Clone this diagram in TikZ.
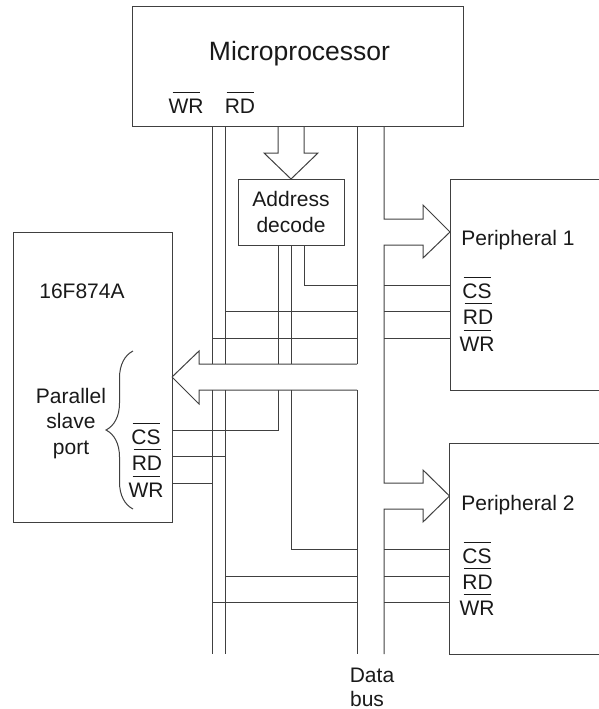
\documentclass[tikz,border=0pt]{standalone}
\usepackage{fontspec}
\setmainfont{Liberation Sans}
\usetikzlibrary{decorations.pathreplacing}

% active-low signal name, bar of fixed length over the text
\newcommand{\sigbar}[1]{\vbox{\offinterlineskip\ialign{\hfil##\hfil\cr
    \vrule height 1pt width 27pt\cr\noalign{\kern 5.5pt}#1\cr}}}

\begin{document}
\begin{tikzpicture}[
    x=1pt, y=-1pt,
    wire/.style={draw=black!75, line width=1pt},
    chip/.style={rectangle, draw=black!75, line width=1pt, inner sep=0pt, outer sep=0pt, align=center},
    label/.style={inner sep=0pt, outer sep=0pt, anchor=base, text=black!90, font=\fontsize{21}{26}\selectfont},
]
\useasboundingbox (0,0) rectangle (599,709);

\node[chip, minimum width=331pt, minimum height=119pt] (micro) at (297.5,66.5) {};
\node[chip, minimum width=106pt, minimum height=66pt, font=\fontsize{21}{26}\selectfont, text=black!90] (decode) at (291,212) {Address\\decode};
\node[chip, minimum width=159pt, minimum height=290pt] (pic) at (92.5,377) {};
\node[chip, minimum width=152pt, minimum height=211pt] (periph1) at (526,284.5) {};
\node[chip, minimum width=153pt, minimum height=211pt] (periph2) at (526,548.5) {};

\node[label, font=\fontsize{26.5}{30}\selectfont] (microname) at (299.5,60) {Microprocessor};
\node[label] (microwr) at (186,113) {\sigbar{WR}};
\node[label] (micrord) at (240,113) {\sigbar{RD}};

\node[label] (picname) at (82,298) {16F874A};
\node[label] (psp1) at (71,403) {Parallel};
\node[label] (psp2) at (71,428) {slave};
\node[label] (psp3) at (71,454) {port};
\node[label] (piccs) at (146,444) {\sigbar{CS}};
\node[label] (picrd) at (147,470) {\sigbar{RD}};
\node[label] (picwr) at (146,497) {\sigbar{WR}};

\node[label] (name1) at (518,245) {Peripheral 1};
\node[label] (cs1) at (477,298) {\sigbar{CS}};
\node[label] (rd1) at (478,324) {\sigbar{RD}};
\node[label] (wr1) at (477,351) {\sigbar{WR}};

\node[label] (name2) at (518,510) {Peripheral 2};
\node[label] (cs2) at (477,563) {\sigbar{CS}};
\node[label] (rd2) at (477.5,589) {\sigbar{RD}};
\node[label] (wr2) at (477,615) {\sigbar{WR}};

\node[label] (data) at (372,682) {Data};
\node[label] (bus) at (367,706) {bus};

% rails, bottom end
\coordinate (wrrail) at (212,654);
\coordinate (rdrail) at (225,654);
\coordinate (busl) at (357,654);
\coordinate (busr) at (384,654);
% address lines under the decoder
\coordinate (addra) at (278,0);
\coordinate (addrb) at (291,0);
\coordinate (addrc) at (304,0);
% edges of the wide bus
\coordinate (bustop) at (0,364);
\coordinate (busbot) at (0,390);
% tips of the branches
\coordinate (tip1) at (450,232);
\coordinate (tip2) at (449.5,496);

% rails
\foreach \rail in {wrrail,rdrail,busl} {
    \draw[wire] (\rail |- micro.south) -- (\rail |- bustop);
    \draw[wire] (\rail |- busbot) -- (\rail);
}

% branches off the data bus
\draw[wire] (tip1) -- ++(-27,-27) -- ++(0,14) -- ++(-39,0) -- (busr |- micro.south);
\draw[wire] (tip1) -- ++(-27,26) -- ++(0,-13) -- ++(-39,0) -- ++(0,238) -- ++(39,0) -- ++(0,-13) -- (tip2);
\draw[wire] (tip2) -- ++(-26.5,26) -- ++(0,-13) -- ++(-39,0) -- (busr);

% address bus into the decoder
\draw[wire] (decode.north) -- ++(-27,-26) -- ++(14,0) -- (addra |- micro.south);
\draw[wire] (decode.north) -- ++(27,-26) -- ++(-14,0) -- (addrc |- micro.south);

% wide bus into the port
\draw[wire] (pic.east) -- ++(27,-26) -- ++(0,13) -- (busl |- bustop);
\draw[wire] (pic.east) -- ++(27,27) -- ++(0,-14) -- (busl |- busbot);

% chip selects
\draw[wire] (addrc |- decode.south) |- (busl |- 0,285);
\draw[wire] (addra |- decode.south) -- (addra |- bustop);
\draw[wire] (addra |- busbot) |- (pic.east |- 0,430);
\draw[wire] (addrb |- decode.south) -- (addrb |- bustop);
\draw[wire] (addrb |- busbot) |- (busl |- 0,549);
\draw[wire] (busr |- 0,285) -- (periph1.west |- 0,285);
\draw[wire] (busr |- 0,549) -- (periph2.west |- 0,549);

% read and write lines
\draw[wire] (rdrail |- 0,311) -- (busl |- 0,311);
\draw[wire] (busr |- 0,311) -- (periph1.west |- 0,311);
\draw[wire] (wrrail |- 0,338) -- (busl |- 0,338);
\draw[wire] (busr |- 0,338) -- (periph1.west |- 0,338);
\draw[wire] (pic.east |- 0,456) -- (rdrail |- 0,456);
\draw[wire] (pic.east |- 0,483) -- (wrrail |- 0,483);
\draw[wire] (rdrail |- 0,576) -- (busl |- 0,576);
\draw[wire] (busr |- 0,576) -- (periph2.west |- 0,576);
\draw[wire] (wrrail |- 0,602) -- (busl |- 0,602);
\draw[wire] (busr |- 0,602) -- (periph2.west |- 0,602);

% brace round the port
\draw[wire, decorate, decoration={brace, amplitude=27pt}] (133,509) -- (133,351);

\end{tikzpicture}
\end{document}
